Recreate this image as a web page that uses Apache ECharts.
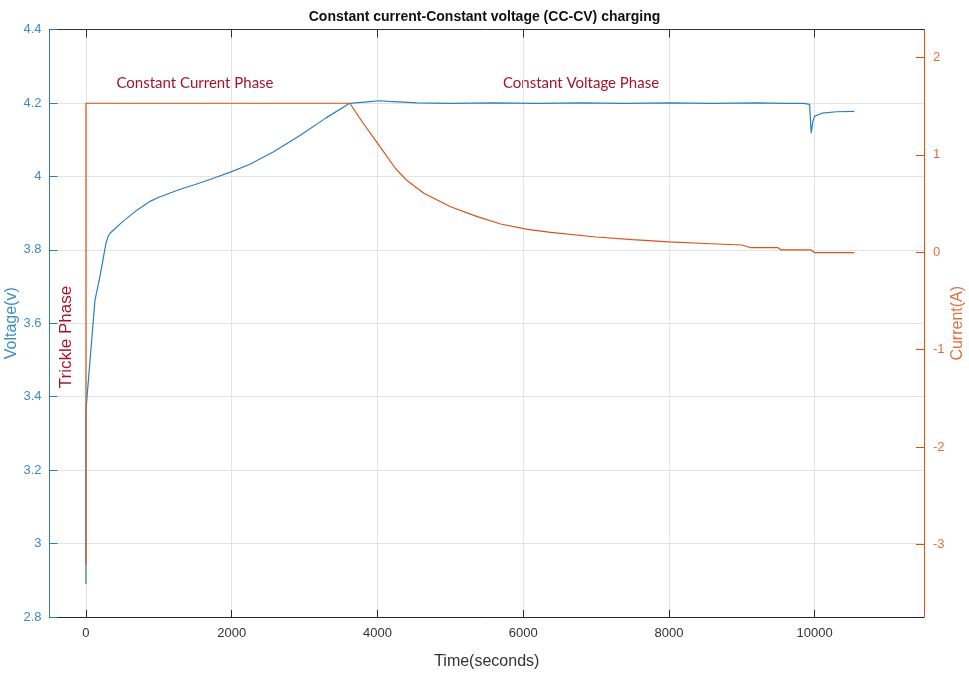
<!DOCTYPE html>
<html>
<head>
<meta charset="utf-8">
<script src="https://cdn.jsdelivr.net/npm/echarts@6/dist/echarts.min.js"></script>
<style>
html,body{margin:0;padding:0;background:#fff;}
#chart{width:969px;height:675px;}
</style>
</head>
<body>
<div id="chart"></div>
<script>
// ---- Data ----
const titleText = 'Constant current-Constant voltage (CC-CV) charging';
const xTicks = [0, 2000, 4000, 6000, 8000, 10000];
const rightTicks = [-3, -2, -1, 0, 1, 2];

const timeV = [0, 0, 65, 124, 192, 275, 306, 330, 500, 700, 880, 1000, 1292, 1500, 1750, 2000, 2250, 2575, 2942, 3300, 3620, 3857, 4041, 4156, 4544, 5000, 5600, 6200, 6800, 7400, 8000, 8600, 9200, 9600, 9850, 9930, 9952, 9975, 10000, 10100, 10300, 10543];
const voltage = [2.89, 3.363, 3.52, 3.663, 3.727, 3.818, 3.837, 3.845, 3.876, 3.908, 3.932, 3.943, 3.965, 3.978, 3.995, 4.013, 4.033, 4.067, 4.112, 4.160, 4.199, 4.203, 4.206, 4.204, 4.200, 4.199, 4.200, 4.199, 4.200, 4.199, 4.200, 4.199, 4.200, 4.199, 4.199, 4.196, 4.118, 4.150, 4.164, 4.172, 4.176, 4.177];

const timeI = [0, 0, 500, 1500, 2500, 3620, 3800, 4020, 4248, 4400, 4637, 5003, 5370, 5691, 6058, 6378, 7000, 7500, 8000, 8500, 9000, 9127, 9498, 9540, 9950, 10000, 10543];
const current = [-3.21, 1.53, 1.53, 1.53, 1.53, 1.53, 1.33, 1.10, 0.86, 0.74, 0.606, 0.468, 0.366, 0.29, 0.236, 0.205, 0.157, 0.13, 0.106, 0.09, 0.075, 0.047, 0.047, 0.024, 0.024, -0.004, -0.004];

const BLUE = '#2a7fbf';
const BLUE_TXT = '#3a8cc6';
const ORANGE = '#D95319';
const ORANGE_TXT = '#e0703e';
const ANNOT = '#a3152f';

const chart = echarts.init(document.getElementById('chart'));
const vData = timeV.map((t, i) => [t, voltage[i]]);
const iData = timeI.map((t, i) => [t, current[i]]);
const plain = v => String(v);

chart.setOption({
  backgroundColor: '#ffffff',
  animation: false,
  title: {
    text: titleText,
    left: 'center',
    top: 5,
    textStyle: {fontFamily: 'Liberation Sans', fontSize: 14, fontWeight: 'bold', color: '#111'}
  },
  grid: {left: 49.5, right: 45, top: 29.5, bottom: 58, containLabel: false, outerBoundsMode: 'none'},
  xAxis: [{
    type: 'value', min: -500, max: 11500, position: 'bottom',
    name: 'Time(seconds)', nameLocation: 'middle', nameGap: 37,
    nameTextStyle: {fontFamily: 'Liberation Sans', fontSize: 16, color: '#333'},
    axisLine: {show: true, onZero: false, lineStyle: {color: '#262626', width: 1}},
    axisTick: {show: true, inside: true, length: 7, customValues: xTicks, lineStyle: {color: '#262626'}},
    axisLabel: {customValues: xTicks, formatter: plain, margin: 10, fontFamily: 'Liberation Sans', fontSize: 13, color: '#333'},
    splitLine: {show: true, lineStyle: {color: '#e3e3e3', width: 1}}
  }, {
    type: 'value', min: -500, max: 11500, position: 'top',
    axisLine: {show: true, onZero: false, lineStyle: {color: '#333', width: 1}},
    axisTick: {show: true, inside: true, length: 8, customValues: xTicks, lineStyle: {color: '#333'}},
    axisLabel: {show: false},
    splitLine: {show: false}
  }],
  yAxis: [{
    type: 'value', min: 2.8, max: 4.4, interval: 0.2, position: 'left',
    name: 'Voltage(v)', nameLocation: 'middle', nameGap: 30, nameRotate: 90, nameMoveOverlap: false,
    nameTextStyle: {fontFamily: 'Liberation Sans', fontSize: 16, color: BLUE_TXT},
    axisLine: {show: true, onZero: false, lineStyle: {color: BLUE, width: 1}},
    axisTick: {show: true, inside: true, length: 8, lineStyle: {color: BLUE}},
    axisLabel: {margin: 8, fontFamily: 'Liberation Sans', fontSize: 13, color: BLUE_TXT},
    splitLine: {show: true, lineStyle: {color: '#e3e3e3', width: 1}}
  }, {
    type: 'value', min: -3.744, max: 2.287, position: 'right',
    name: 'Current(A)', nameLocation: 'middle', nameGap: 26, nameRotate: 90, nameMoveOverlap: false,
    nameTextStyle: {fontFamily: 'Liberation Sans', fontSize: 16, color: ORANGE_TXT},
    axisLine: {show: true, onZero: false, lineStyle: {color: ORANGE, width: 1}},
    axisTick: {show: true, inside: true, length: 8, customValues: rightTicks, lineStyle: {color: ORANGE}},
    axisLabel: {customValues: rightTicks, formatter: plain, margin: 9, fontFamily: 'Liberation Sans', fontSize: 13, color: ORANGE_TXT},
    splitLine: {show: false}
  }],
  series: [{
    name: 'Voltage', type: 'line', xAxisIndex: 0, yAxisIndex: 0,
    data: vData, showSymbol: false, symbol: 'none',
    lineStyle: {color: BLUE, width: 1.2}, z: 3
  }, {
    name: 'Current', type: 'line', xAxisIndex: 0, yAxisIndex: 1,
    data: iData, showSymbol: false, symbol: 'none',
    lineStyle: {color: ORANGE, width: 1.2}, z: 4
  }],
  graphic: [{
    type: 'text', x: 195, y: 83,
    style: {text: 'Constant Current Phase', fill: ANNOT, font: '15px Lato', align: 'center', verticalAlign: 'middle'}
  }, {
    type: 'text', x: 581, y: 83,
    style: {text: 'Constant Voltage Phase', fill: ANNOT, font: '15px Lato', align: 'center', verticalAlign: 'middle'}
  }, {
    type: 'text', x: 66, y: 337, rotation: Math.PI / 2,
    style: {text: 'Trickle Phase', fill: ANNOT, font: '17px "Liberation Sans"', align: 'center', verticalAlign: 'middle'}
  }]
});
</script>
</body>
</html>
